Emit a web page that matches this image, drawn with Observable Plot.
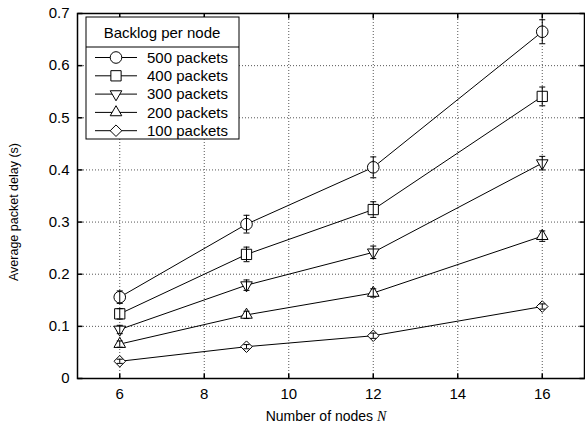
<!DOCTYPE html>
<html><head><meta charset="utf-8">
<script src="https://cdn.jsdelivr.net/npm/d3@7"></script>
<script src="https://cdn.jsdelivr.net/npm/@observablehq/plot@0.6"></script>
<style>
body{margin:0;background:#fff;}
#wrap{position:relative;width:585px;height:426px;font-family:"Liberation Sans",Arial,sans-serif;}
#wrap svg{display:block;}
#over{position:absolute;left:0;top:0;pointer-events:none;}
</style></head><body><div id="wrap"></div>
<script>
// ---- data ----
const nodes = [6, 9, 12, 16];
const seriesNames = ["500 packets", "400 packets", "300 packets", "200 packets", "100 packets"];
const delay500 = [0.156, 0.296, 0.405, 0.665];
const delay400 = [0.124, 0.238, 0.324, 0.541];
const delay300 = [0.094, 0.179, 0.242, 0.413];
const delay200 = [0.066, 0.122, 0.164, 0.273];
const delay100 = [0.033, 0.061, 0.082, 0.138];
const err500 = [0.012, 0.017, 0.020, 0.023];
const err400 = [0.010, 0.014, 0.015, 0.018];
const err300 = [0.008, 0.010, 0.012, 0.013];
const err200 = [0.006, 0.007, 0.008, 0.010];
const err100 = [0.004, 0.004, 0.005, 0.005];
const xTicks = [6, 8, 10, 12, 14, 16];
const yTicks = [0, 0.1, 0.2, 0.3, 0.4, 0.5, 0.6, 0.7];
const yTickLabels = ["0", "0.1", "0.2", "0.3", "0.4", "0.5", "0.6", "0.7"];
const legendTitle = "Backlog per node";
const xLabel = "Number of nodes ";
const xLabelVar = "N";
const yLabel = "Average packet delay (s)";

// ---- build table ----
const delays = [delay500, delay400, delay300, delay200, delay100];
const errs = [err500, err400, err300, err200, err100];
const symbols = [
  {symbol: "circle", r: 5.8, rotate: 0},
  {symbol: "square", r: 5.8, rotate: 0},
  {symbol: "triangle", r: 4.3, rotate: 180},
  {symbol: "triangle", r: 4.3, rotate: 0},
  {symbol: "diamond2", r: 5.2, rotate: 0}
];
const series = seriesNames.map((name, s) => nodes.map((n, i) => ({
  series: name, n, y: delays[s][i], lo: delays[s][i] - errs[s][i], hi: delays[s][i] + errs[s][i]
})));
const all = series.flat();

const hcap = {draw(ctx) { ctx.moveTo(-3, 0); ctx.lineTo(3, 0); }};
const vtick = {draw(ctx) { ctx.moveTo(0, -2.5); ctx.lineTo(0, 2.5); }};
const htick = {draw(ctx) { ctx.moveTo(-2.5, 0); ctx.lineTo(2.5, 0); }};

const marks = [
  Plot.ruleX(xTicks, {x: d => d, stroke: "#555", strokeDasharray: "1,2", strokeWidth: 1}),
  Plot.ruleY(yTicks, {y: d => d, stroke: "#555", strokeDasharray: "1,2", strokeWidth: 1}),
  ...series.map(s => Plot.line(s, {x: "n", y: "y", stroke: "black", strokeWidth: 1})),
  ...series.map((s, k) => Plot.dot(s, {x: "n", y: "y", symbol: symbols[k].symbol, r: symbols[k].r,
      rotate: symbols[k].rotate, fill: "white", stroke: "black", strokeWidth: 1})),
  Plot.ruleX(all, {x: "n", y1: "lo", y2: "hi", stroke: "black", strokeWidth: 1}),
  Plot.dot(all, {x: "n", y: "lo", symbol: hcap, stroke: "black", strokeWidth: 1}),
  Plot.dot(all, {x: "n", y: "hi", symbol: hcap, stroke: "black", strokeWidth: 1}),
  Plot.dot(xTicks, {x: d => d, frameAnchor: "bottom", dy: -2.5, symbol: vtick, stroke: "black"}),
  Plot.dot(xTicks, {x: d => d, frameAnchor: "top", dy: 2.5, symbol: vtick, stroke: "black"}),
  Plot.dot(yTicks, {y: d => d, frameAnchor: "left", dx: 2.5, symbol: htick, stroke: "black"}),
  Plot.dot(yTicks, {y: d => d, frameAnchor: "right", dx: -2.5, symbol: htick, stroke: "black"}),
  Plot.frame({stroke: "black", strokeWidth: 1.5})
];

const chart = Plot.plot({
  width: 585, height: 426,
  marginLeft: 77, marginRight: 1, marginTop: 13, marginBottom: 48,
  style: {fontFamily: "'Liberation Sans', Arial, sans-serif", fontSize: "15px", color: "black", background: "white"},
  x: {domain: [5, 17], ticks: xTicks, tickSize: 0, tickPadding: 10, label: null},
  y: {domain: [0, 0.7], ticks: yTicks, tickSize: 0, tickPadding: 8, label: null,
      tickFormat: d => yTickLabels[yTicks.findIndex(t => Math.abs(t - d) < 1e-9)]},
  marks
});
const wrap = document.getElementById("wrap");
wrap.appendChild(chart);

// ---- overlay: axis titles + legend ----
const svg = d3.select(wrap).append("svg").attr("id", "over").attr("width", 585).attr("height", 426)
  .style("font-family", "'Liberation Sans', Arial, sans-serif");
const xl = svg.append("text").attr("x", 326).attr("y", 421).attr("text-anchor", "middle")
  .attr("font-size", 14).attr("fill", "black");
xl.append("tspan").text(xLabel);
xl.append("tspan").attr("font-family", "'Liberation Serif', 'Times New Roman', serif")
  .attr("font-style", "italic").text(xLabelVar);
svg.append("text").attr("transform", "translate(18,212) rotate(-90)").attr("text-anchor", "middle")
  .attr("font-size", 12.5).attr("fill", "black").text(yLabel);

const lg = svg.append("g").attr("transform", "translate(86,17)");
lg.append("rect").attr("x", 0).attr("y", 0).attr("width", 153).attr("height", 122)
  .attr("fill", "white").attr("stroke", "black").attr("stroke-width", 1);
lg.append("line").attr("x1", 0).attr("x2", 153).attr("y1", 30).attr("y2", 30).attr("stroke", "black");
lg.append("text").attr("x", 76).attr("y", 21).attr("text-anchor", "middle").attr("font-size", 15).text(legendTitle);
const symMap = {circle: d3.symbolCircle, square: d3.symbolSquare, triangle: d3.symbolTriangle, diamond2: d3.symbolDiamond2};
seriesNames.forEach((name, k) => {
  const cy = 40.5 + k * 18.3;
  lg.append("line").attr("x1", 9).attr("x2", 51).attr("y1", cy).attr("y2", cy).attr("stroke", "black");
  const sy = symbols[k];
  lg.append("path").attr("d", d3.symbol(symMap[sy.symbol], Math.PI * sy.r * sy.r)())
    .attr("transform", `translate(30,${cy}) rotate(${sy.rotate})`)
    .attr("fill", "white").attr("stroke", "black");
  lg.append("text").attr("x", 61).attr("y", cy + 5.3).attr("font-size", 15).text(name);
});
</script></body></html>
